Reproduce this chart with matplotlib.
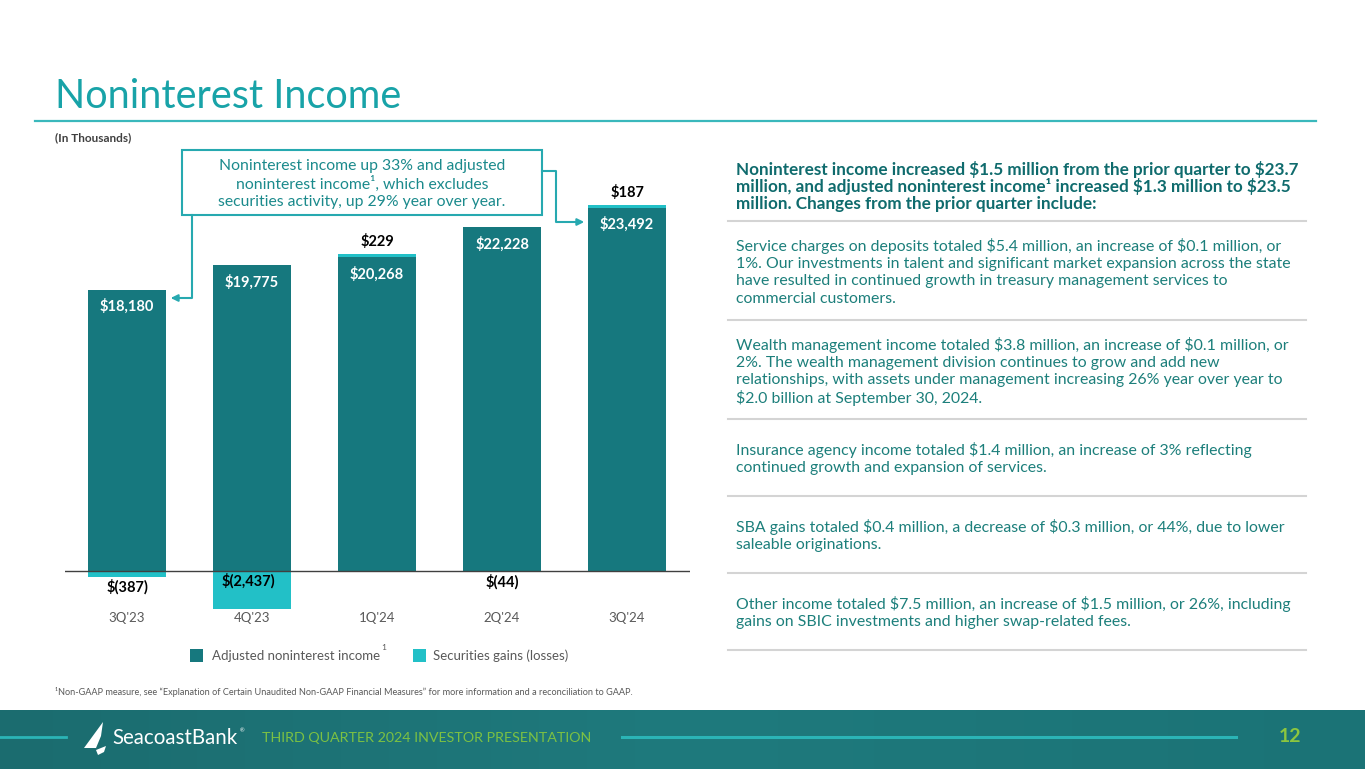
import matplotlib
matplotlib.use("Agg")
import matplotlib.pyplot as plt
import numpy as np
from matplotlib.patches import Rectangle, Polygon

plt.rcParams['font.family'] = ['Lato', 'DejaVu Sans']
plt.rcParams['text.parse_math'] = False

# chart data (in thousands)
quarters = ["3Q'23", "4Q'23", "1Q'24", "2Q'24", "3Q'24"]
adjusted = [18180, 19775, 20268, 22228, 23492]
securities = [-387, -2437, 229, -44, 187]

dark = '#16787e'
light = '#22c0c7'
teal_title = '#18a3a8'
gray = '#595959'

# right-hand commentary
headline = ["Noninterest income increased $1.5 million from the prior quarter to $23.7",
            "million, and adjusted noninterest income¹ increased $1.3 million to $23.5",
            "million. Changes from the prior quarter include:"]
paragraphs = [
    ["Service charges on deposits totaled $5.4 million, an increase of $0.1 million, or",
     "1%. Our investments in talent and significant market expansion across the state",
     "have resulted in continued growth in treasury management services to",
     "commercial customers."],
    ["Wealth management income totaled $3.8 million, an increase of $0.1 million, or",
     "2%. The wealth management division continues to grow and add new",
     "relationships, with assets under management increasing 26% year over year to",
     "$2.0 billion at September 30, 2024."],
    ["Insurance agency income totaled $1.4 million, an increase of 3% reflecting",
     "continued growth and expansion of services."],
    ["SBA gains totaled $0.4 million, a decrease of $0.3 million, or 44%, due to lower",
     "saleable originations."],
    ["Other income totaled $7.5 million, an increase of $1.5 million, or 26%, including",
     "gains on SBIC investments and higher swap-related fees."],
]
para_tops = [246, 345, 450, 527, 604]
separators = [221, 320, 419, 496, 573, 650]

fig = plt.figure(figsize=(13.65, 7.69), dpi=100)

# slide layer in pixel coordinates
bg = fig.add_axes([0, 0, 1, 1])
bg.set_xlim(0, 1365)
bg.set_ylim(769, 0)
bg.axis('off')

bg.text(55, 96, 'Noninterest Income', fontsize=28.5, color=teal_title, va='center', ha='left')
bg.plot([35, 1316], [121, 121], color='#3ab8bc', lw=1.6)
bg.text(55, 138, '(In Thousands)', fontsize=8.5, fontweight='bold', color='#404040', va='center')

# headline and paragraphs
for i, line in enumerate(headline):
    bg.text(736, 170 + i * 16.8, line, fontsize=12.3, fontweight='bold', color='#0f6b6d', va='center')
for top, para in zip(para_tops, paragraphs):
    for i, line in enumerate(para):
        bg.text(736, top + i * 17.7, line, fontsize=11.4, color='#1c7f7b', va='center')
for y in separators:
    bg.plot([728, 1306], [y, y], color='#d4d4d4', lw=1.5)

# callout box
bg.add_patch(Rectangle((182, 150), 360, 65, fill=False, ec='#27a9b0', lw=1.5))
callout = ['Noninterest income up 33% and adjusted',
           'noninterest income¹, which excludes',
           'securities activity, up 29% year over year.']
for i, line in enumerate(callout):
    bg.text(362, 166 + i * 18, line, fontsize=11.3, color='#1b8a8c', ha='center', va='center')
bg.plot([192, 192, 176], [215, 298, 298], color='#27a9b0', lw=1.5)
bg.annotate('', xy=(168, 298), xytext=(178, 298),
            arrowprops=dict(arrowstyle='-|>', color='#27a9b0', lw=1.5, mutation_scale=10))
bg.plot([542, 556, 556, 578], [171, 171, 222, 222], color='#27a9b0', lw=1.5)
bg.annotate('', xy=(587, 222), xytext=(576, 222),
            arrowprops=dict(arrowstyle='-|>', color='#27a9b0', lw=1.5, mutation_scale=10))

# legend
bg.add_patch(Rectangle((190, 649), 13, 13, color=dark, lw=0))
bg.text(212, 656, 'Adjusted noninterest income', fontsize=9.5, color=gray, va='center')
bg.text(381, 648, '1', fontsize=6, color=gray, va='center')
bg.add_patch(Rectangle((413, 649), 13, 13, color=light, lw=0))
bg.text(433, 656, 'Securities gains (losses)', fontsize=9.5, color=gray, va='center')

bg.text(55, 692, '¹Non-GAAP measure, see \u201cExplanation of Certain Unaudited Non-GAAP Financial Measures\u201d '
        'for more information and a reconciliation to GAAP.', fontsize=6.6, color=gray, va='center')

# footer band
grad = np.linspace(0, 1, 256).reshape(1, -1)
cmap = matplotlib.colors.LinearSegmentedColormap.from_list('band', ['#1b6c6f', '#1f7a7d', '#1b7376'])
bg.imshow(grad, cmap=cmap, extent=(0, 1365, 769, 710), aspect='auto', zorder=0)
bg.plot([0, 66], [737, 737], color='#2bb4b6', lw=2)
bg.plot([622, 1236], [737, 737], color='#2bb4b6', lw=2.2)
bg.add_patch(Polygon([(84, 748), (103, 722), (101, 736), (96, 748)], color='white', lw=0))
bg.add_patch(Polygon([(96, 750), (106, 746), (104, 752), (98, 755)], color='white', lw=0))
bg.text(112, 738, 'SeacoastBank', fontsize=14.8, color='white', va='center')
bg.text(240, 731, '®', fontsize=4, color='white', va='center')
bg.text(262, 738, 'THIRD QUARTER 2024 INVESTOR PRESENTATION', fontsize=10.25, color='#7cc143', va='center')
bg.text(1290, 736, '12', fontsize=14, fontweight='bold', color='#8cc63f', ha='center', va='center')

# bar chart
ax = fig.add_axes([0.0473, 0.2081, 0.4579, 0.5423])
ax.patch.set_alpha(0)
x = np.arange(len(quarters))
adj = np.array(adjusted)
sec = np.array(securities)
w = 0.63
ax.bar(x, adj, width=w, color=dark, zorder=2)
sec_bottom = np.where(sec > 0, adj, 0)
ax.bar(x, sec, width=w, bottom=sec_bottom, color=light, zorder=2)
ax.set_xlim(-0.5, len(quarters) - 0.5)
ax.set_ylim(-2460, 24500)
ax.axhline(0, color='#404040', lw=1, zorder=3)
for s in ax.spines.values():
    s.set_visible(False)
ax.set_yticks([])
ax.set_xticks(x)
ax.set_xticklabels(quarters, fontsize=9.5, color=gray)
ax.tick_params(axis='x', length=0, pad=2)

for xi, a, s in zip(x, adj, sec):
    ax.annotate(f'${a:,}', (xi, a), xytext=(0, -12), textcoords='offset points',
                ha='center', va='center', color='white', fontsize=10.5, fontweight='bold')
    if s > 0:
        ax.annotate(f'${s:,}', (xi, a + s), xytext=(0, 9), textcoords='offset points',
                    ha='center', va='center', color='black', fontsize=10.5, fontweight='bold')
    elif abs(s) > 1000:
        ax.annotate(f'$({-s:,})', (xi, 0), xytext=(-3, -7), textcoords='offset points',
                    ha='center', va='center', color='black', fontsize=10.5, fontweight='bold')
    else:
        ax.annotate(f'$({-s:,})', (xi, s), xytext=(0, -7.5), textcoords='offset points',
                    ha='center', va='center', color='black', fontsize=10.5, fontweight='bold')

fig.savefig('out.png', dpi=100)
